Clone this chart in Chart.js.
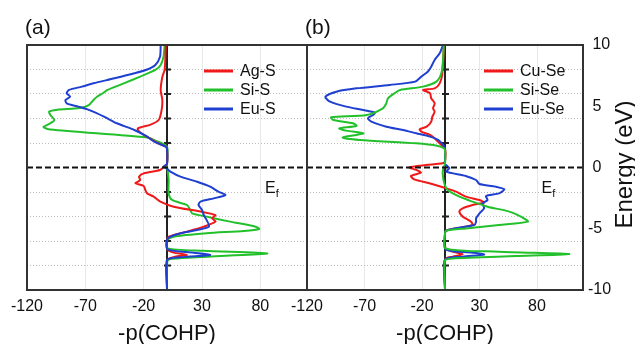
<!DOCTYPE html>
<html>
<head>
<meta charset="utf-8">
<script src="https://cdn.jsdelivr.net/npm/chart.js@4.4.1/dist/chart.umd.min.js"></script>
<style>
  body { margin: 0; background: #fff; }
  #wrap { position: relative; width: 635px; height: 344px; overflow: hidden; }
  canvas { position: absolute; top: 0; }
  #chart_a { left: 0; }
  #chart_b { left: 280px; }
</style>
</head>
<body>
<div id="wrap">
  <canvas id="chart_a" width="320" height="344"></canvas>
  <canvas id="chart_b" width="355" height="344"></canvas>
</div>
<script>
  // axis ticks
  var xTicks = [-120, -70, -20, 30, 80];
  var yTicks = [-10, -8, -6, -5, -4, -2, 0, 2, 4, 5, 6, 8, 10];
  var panelLabels = ['(a)', '(b)'];
  var namesA = ['Ag-S', 'Si-S', 'Eu-S'];
  var namesB = ['Cu-Se', 'Si-Se', 'Eu-Se'];
  var colors = ['#f01818', '#22c02a', '#1e3fd0'];

  // [energy (eV), -pCOHP]
  var agS = [[10,-1],[8,-2],[7.4,-4],[6.3,-5.4],[5.5,-4],[4.7,-4.6],[3.9,-7],[3.5,-14],[3.2,-25],[2.95,-24],
    [2.5,-17],[2.25,-12.5],[2.0,-8],[1.7,-1],[1.5,0],[0.3,0],[0.1,-2],[-0.2,-6],[-0.48,-20],[-0.75,-24],
    [-1.02,-23],[-1.29,-27],[-1.51,-20],[-1.84,-18.6],[-2.11,-17],[-2.38,-11.5],[-2.79,-5.7],[-3.2,5.7],
    [-3.6,28.7],[-3.88,41.5],[-4.15,38.7],[-4.42,41.5],[-4.83,31.5],[-5.24,17],[-5.65,1.4],[-5.92,0],
    [-6.6,0],[-6.75,0.8],[-6.95,5.7],[-7.14,17],[-7.28,7],[-7.5,0.5],[-7.7,0],[-10,0]];
  var siS = [[10,-2],[9.05,-3],[8.37,-5.4],[7.96,-10],[7.42,-23],[6.87,-37],[6.33,-51],[6.06,-55],[5.78,-60],
    [5.51,-63],[5.1,-67],[4.85,-75],[4.72,-94],[4.56,-101],[4.29,-100],[3.88,-96.6],[3.61,-100],[3.3,-106],
    [3.1,-100],[2.45,-17],[2.2,-10],[1.7,0],[0.1,0],[-0.2,0.5],[-1.0,1.4],[-2.1,1.4],[-2.65,4.3],[-3.06,17],
    [-3.47,20],[-3.74,21.5],[-4.01,34],[-4.42,54],[-4.83,76],[-5.02,79],[-5.18,66],[-5.37,34],[-5.65,5.7],
    [-5.92,0],[-6.6,0.5],[-6.79,31.5],[-7.01,86],[-7.23,46],[-7.42,8.6],[-7.6,0.5],[-10,0]];
  var euS = [[10,-5.4],[9.05,-6],[8.37,-10],[8.0,-17],[7.69,-28],[7.28,-45],[6.87,-63],[6.6,-73],[6.33,-84],
    [6.06,-86],[5.78,-83],[5.51,-87],[5.24,-86],[4.97,-76],[4.7,-67],[4.15,-54],[3.61,-43],[3.06,-28],
    [2.52,-17],[2.11,-11],[1.7,-1],[1.55,0],[0.3,0],[0.07,-2.9],[-0.1,0],[-0.34,2.9],[-0.75,11.5],
    [-1.16,25.8],[-1.56,37],[-1.97,44],[-2.25,50],[-2.52,40],[-2.79,28.7],[-3.06,27],[-3.47,30],
    [-3.88,31.5],[-4.29,34],[-4.83,36],[-5.1,25.8],[-5.37,11.5],[-5.65,2.9],[-5.92,0],[-6.68,0.5],
    [-6.95,23],[-7.14,37],[-7.33,11.5],[-7.55,0],[-10,0]];

  var cuSe = [[10,-1],[7.69,-2.3],[6.87,-4.6],[6.46,-9],[6.33,-19],[6.06,-13],[5.65,-12],[5.24,-9],[4.83,-10.4],
    [4.56,-9],[4.15,-11],[3.74,-12],[3.33,-16],[3.12,-22],[2.93,-20.6],[2.66,-13],[2.25,-7.5],[1.84,-3.2],
    [1.55,0],[0.5,0],[0.34,-2],[0.2,-16.5],[0.01,-31],[-0.2,-25],[-0.42,-21],[-0.69,-29.6],[-0.97,-26.7],
    [-1.29,-13.6],[-1.7,1],[-1.97,9.6],[-2.38,18],[-2.65,30],[-2.87,34],[-3.06,24],[-3.33,15.4],[-3.6,12.5],
    [-4.01,15.4],[-4.42,22.6],[-4.69,24],[-4.97,9.6],[-5.16,1],[-5.4,0],[-6.6,0.5],[-6.87,6.7],[-7.09,15.4],
    [-7.28,6.7],[-7.5,0],[-10,0]];
  var siSe = [[10,-1],[8.78,-1.7],[7.69,-3.2],[7.01,-7.5],[6.6,-19],[6.33,-39],[6.06,-44],[5.65,-49.6],
    [5.24,-51],[4.83,-54],[4.29,-68],[4.1,-99],[3.88,-97],[3.61,-80],[3.39,-77],[3.2,-92],[3.01,-86],
    [2.79,-71],[2.66,-77],[2.44,-89],[2.25,-74],[1.97,-25],[1.76,-6],[1.57,-1],[1.4,0],[0.3,0],[-0.07,-1.4],
    [-0.48,-2],[-1.29,-0.6],[-1.84,2.3],[-2.38,12.5],[-2.79,24],[-3.2,37],[-3.6,56],[-4.01,66],[-4.42,72],
    [-4.69,47],[-4.97,18],[-5.16,1],[-5.4,0],[-6.6,0.5],[-6.87,47],[-7.06,108],[-7.23,62],[-7.42,6.7],
    [-7.6,0],[-10,0]];
  var euSe = [[10,-1.7],[9.32,-4.6],[8.78,-9],[8.23,-12],[7.82,-15],[7.42,-20.6],[7.01,-26],[6.74,-48],
    [6.46,-77],[6.19,-94.5],[5.78,-104],[5.37,-100],[4.97,-86],[4.7,-71],[4.48,-61],[4.29,-62.6],[4.02,-67],
    [3.74,-64],[3.33,-51],[3.06,-36.5],[2.79,-25],[2.52,-13],[2.25,-6],[1.84,-1.7],[1.55,0],[0.3,0],
    [0.2,0.9],[-0.07,3.8],[-0.34,1],[-0.69,18],[-1.02,27],[-1.35,30],[-1.56,44],[-1.78,51.6],[-2.11,47],
    [-2.33,35.7],[-2.65,37],[-2.92,32.8],[-3.33,34],[-3.74,30],[-4.15,27],[-4.42,27],[-4.69,25.5],
    [-4.97,8],[-5.16,1],[-5.4,0],[-6.68,0.5],[-6.95,24],[-7.11,34],[-7.28,15.4],[-7.5,0],[-10,0]];

  Chart.defaults.font.family = "'Liberation Sans', Arial, sans-serif";
  Chart.defaults.color = '#111';

  function toPts(arr) {
      return arr.map(function(p) { return {x: p[1], y: p[0]}; });
  }

  function makeSet(label, arr, color, order) {
      return {label: label, data: toPts(arr), borderColor: color, backgroundColor: color,
              borderWidth: 2, pointRadius: 0, showLine: true, tension: 0.25, order: order};
  }

  function isGridE(v) {
      return v % 2 === 0 && v !== 0 && Math.abs(v) !== 10;
  }

  // zero axis, Fermi level, frame, legend and text labels
  var decor = {
      id: 'decor',
      beforeDatasetsDraw: function(chart, args, opts) {
          var ctx = chart.ctx, a = chart.chartArea, x = chart.scales.x, y = chart.scales.y;
          var x0 = x.getPixelForValue(0);
          ctx.save();
          ctx.strokeStyle = '#222';
          ctx.lineWidth = 2;
          ctx.beginPath();
          ctx.moveTo(x0, a.top);
          ctx.lineTo(x0, a.bottom);
          y.ticks.forEach(function(t) {
              if (!isGridE(t.value)) return;
              var py = y.getPixelForValue(t.value);
              ctx.moveTo(x0 - 3, py);
              ctx.lineTo(x0 + 4, py);
          });
          ctx.stroke();
          ctx.restore();
      },
      afterDatasetsDraw: function(chart, args, opts) {
          var ctx = chart.ctx, a = chart.chartArea, x = chart.scales.x, y = chart.scales.y;
          ctx.save();
          // Fermi level
          var y0 = y.getPixelForValue(0);
          ctx.strokeStyle = '#111';
          ctx.lineWidth = 2;
          ctx.setLineDash([6, 3]);
          ctx.beginPath();
          ctx.moveTo(a.left, y0);
          ctx.lineTo(a.right, y0);
          ctx.stroke();
          ctx.setLineDash([]);
          // frame
          ctx.strokeStyle = '#333';
          ctx.strokeRect(a.left, a.top, a.right - a.left, a.bottom - a.top);

          // legend
          ctx.font = "16px 'Liberation Sans', Arial, sans-serif";
          ctx.textBaseline = 'middle';
          ctx.textAlign = 'left';
          chart.data.datasets.forEach(function(ds, i) {
              var ly = a.top + 26 + i * 19;
              var lx = a.left + 177;
              ctx.strokeStyle = ds.borderColor;
              ctx.lineWidth = 3;
              ctx.beginPath();
              ctx.moveTo(lx, ly);
              ctx.lineTo(lx + 29, ly);
              ctx.stroke();
              ctx.fillStyle = '#111';
              ctx.fillText(ds.label, lx + 36, ly + 1);
          });

          // E_f
          ctx.textBaseline = 'alphabetic';
          var ex = x.getPixelForValue(84), ey = y.getPixelForValue(-2.1);
          ctx.font = "16px 'Liberation Sans', Arial, sans-serif";
          ctx.fillText('E', ex, ey);
          var ew = ctx.measureText('E').width;
          ctx.font = "11px 'Liberation Sans', Arial, sans-serif";
          ctx.fillText('f', ex + ew, ey + 4);

          // panel letter
          ctx.font = "21px 'Liberation Sans', Arial, sans-serif";
          ctx.fillText(opts.letter, a.left - 2, 34);

          // energy title on the right
          if (opts.energy) {
              ctx.translate(chart.width - 3, (a.top + a.bottom) / 2 - 3);
              ctx.rotate(-Math.PI / 2);
              ctx.textAlign = 'center';
              ctx.font = "24px 'Liberation Sans', Arial, sans-serif";
              ctx.fillText('Energy (eV)', 0, 0);
          }
          ctx.restore();
      }
  };

  function makeChart(id, names, sets, orders, letter, showRight) {
      var datasets = [];
      for (var i = 0; i < sets.length; i++) {
          datasets.push(makeSet(names[i], sets[i], colors[i], orders[i]));
      }
      return new Chart(id, {
          type: 'scatter',
          data: {datasets: datasets},
          plugins: [decor],
          options: {
              responsive: false,
              animation: false,
              layout: {padding: {left: 27, right: showRight ? 0 : 13, top: 45, bottom: 0}},
              plugins: {
                  legend: {display: false},
                  tooltip: {enabled: false},
                  decor: {letter: letter, energy: showRight}
              },
              scales: {
                  x: {
                      type: 'linear', min: -120, max: 120,
                      afterBuildTicks: function(s) { s.ticks = xTicks.map(function(v) { return {value: v}; }); },
                      afterFit: function(s) { s.height = 54; },
                      grid: {color: '#e8e8e8', lineWidth: 1, drawTicks: false},
                      border: {display: false},
                      ticks: {padding: 7, font: {size: 16}, maxRotation: 0, autoSkip: false},
                      title: {display: true, text: '-p(COHP)', font: {size: 22, lineHeight: 1}, padding: {top: 0, bottom: -1}}
                  },
                  y: {
                      type: 'linear', min: -10, max: 10, position: 'right',
                      afterBuildTicks: function(s) { s.ticks = yTicks.map(function(v) { return {value: v}; }); },
                      afterFit: function(s) { s.width = showRight ? 52 : 0; },
                      grid: {
                          color: function(c) { return isGridE(c.tick.value) ? '#bdbdbd' : 'rgba(0,0,0,0)'; },
                          drawTicks: false
                      },
                      border: {display: false, dash: [1, 2]},
                      ticks: {
                          display: showRight, padding: 5, font: {size: 16}, autoSkip: false,
                          callback: function(v) { return v % 5 === 0 ? (v < 0 ? '' + v : ' ' + v) : ''; }
                      }
                  }
              }
          }
      });
  }

  var chart_a = makeChart('chart_a', namesA, [agS, siS, euS], [1, 2, 0], panelLabels[0], false);
  var chart_b = makeChart('chart_b', namesB, [cuSe, siSe, euSe], [2, 0, 1], panelLabels[1], true);
</script>
</body>
</html>
